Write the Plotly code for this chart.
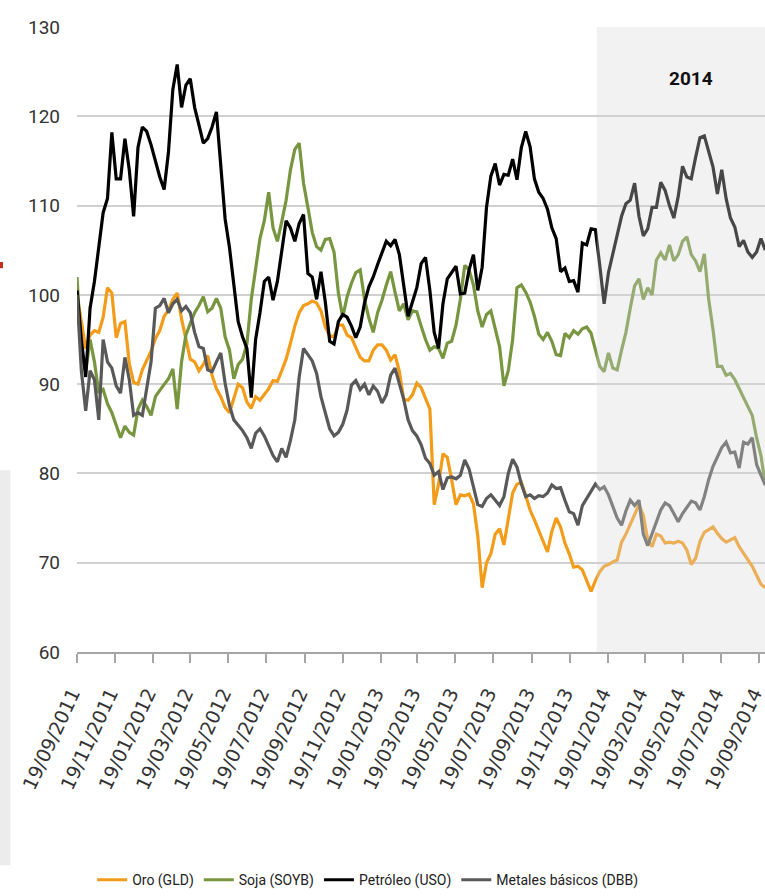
import pandas as pd
import plotly.graph_objects as go

# ---- data (weekly readings, index = 100 on 19/09/2011) ----
start_date = "2011-09-19"

oro = [100, 97, 94, 95.5, 96, 95.8, 97.5, 100.8, 100.2, 95.2,
       96.8, 97, 92.3, 90.2, 90, 91.6, 92.7, 93.7, 95.1, 96,
       97.6, 98.3, 99.5, 100.2, 97.3, 95, 92.8, 92.5, 91.5, 92.2,
       93.2, 91, 89.5, 88.6, 87.4, 86.8, 88.4, 90, 89.6, 88,
       87.3, 88.6, 88.2, 88.8, 89.5, 90.4, 90.3, 91.5, 92.8, 94.6,
       96.5, 98, 98.8, 99, 99.3, 99.1, 98.2, 96.4, 95.4, 95.3,
       96.6, 96.6, 95.5, 95.2, 94, 93, 92.6, 92.6, 93.8, 94.4,
       94.4, 93.8, 92.7, 93.3, 91.4, 88.3, 88.2, 88.8, 90.1, 89.6,
       88.4, 87.2, 76.5, 78.8, 82.2, 81.8, 79.3, 76.5, 77.6, 77.5,
       77.7, 76.6, 73, 67.2, 70, 71, 73.2, 73.8, 72, 74.8,
       77.8, 78.8, 79, 77.5, 75.9, 74.8, 73.6, 72.6, 71.2, 73.5,
       75, 74, 72.2, 71, 69.5, 69.6, 69.2, 68, 66.8, 68,
       69, 69.6, 69.8, 70.1, 70.3, 72.3, 73.2, 74.3, 75.3, 76.5,
       75.3, 72.6, 71.8, 73.2, 73, 72.2, 72.3, 72.2, 72.4, 72.2,
       71.4, 69.8, 70.5, 72.4, 73.4, 73.7, 74, 73.3, 72.7, 72.3,
       72.6, 72.8, 71.8, 71.1, 70.3, 69.6, 68.6, 67.6, 67.2]

soja = [102, 93.5, 91.5, 95, 92.5, 89, 89.4, 87.8, 86.8, 85.3,
        84, 85.3, 84.6, 84.3, 87.2, 88.2, 87.5, 86.5, 88.6, 89.3,
        90, 90.6, 91.7, 87.2, 92.5, 95.5, 96.8, 98, 98.8, 99.8,
        98.1, 98.5, 99.6, 98.5, 95.3, 93.8, 90.6, 92.2, 92.8, 94.5,
        99.5, 102.8, 106.3, 108.3, 111.5, 107.5, 106, 108.2, 110.6, 114,
        116.3, 117, 112.5, 109.8, 107, 105.4, 105, 106.2, 106.3, 104.8,
        100.2, 97.5, 99.8, 101.3, 102.5, 102.8, 99.5, 97.4, 95.8, 98,
        99.4, 101.1, 102.6, 100.3, 98.2, 99, 97.2, 98.2, 98.1, 96.5,
        95, 93.8, 94.2, 94, 92.9, 94.6, 94.8, 96.6, 99.5, 103.3,
        102.8, 101.1, 98.2, 96.4, 97.8, 98.2, 96.3, 94.2, 89.8, 91.5,
        95, 100.8, 101.1, 100.3, 99.2, 97.6, 95.6, 95, 95.8, 94.8,
        93.3, 93.2, 95.7, 95.2, 96, 95.6, 96.2, 96.4, 95.7, 94,
        92, 91.4, 93.5, 91.8, 91.6, 93.8, 95.8, 98.5, 101, 101.8,
        99.5, 100.8, 100, 103.9, 104.7, 103.9, 105.6, 103.8, 104.5, 106,
        106.5, 104.5, 103.8, 102.6, 104.6, 99.5, 96.1, 92, 92, 91,
        91.2, 90.5, 89.5, 88.5, 87.5, 86.5, 84, 82, 78.7]

petroleo = [100.5, 95, 90.8, 98.5, 101.5, 105.5, 109.2, 110.8, 118.2, 113,
            113, 117.5, 114, 108.8, 116.5, 118.8, 118.3, 116.8, 115, 113.2,
            111.8, 116, 123, 125.8, 121, 123.5, 124.2, 121, 119, 117,
            117.5, 118.8, 120.5, 114, 108.5, 105.3, 101.5, 97, 95.3, 94,
            88.5, 95, 98, 101.5, 102, 99.4, 101.5, 105, 108.3, 107.5,
            106, 108, 109, 102.4, 102, 99.5, 102.6, 99.2, 94.8, 94.5,
            97, 97.8, 97.5, 96.5, 95.2, 96.4, 99.1, 100.9, 102, 103.4,
            104.7, 106, 105.5, 106.2, 104.5, 101, 97.6, 99.2, 100.8, 103.5,
            104.2, 100.5, 95.8, 94, 99, 101.8, 102.5, 103.2, 100.1, 100.2,
            102.8, 104.5, 100.5, 103.1, 109.8, 113.3, 114.7, 112.3, 113.5, 113.4,
            115.2, 112.9, 116.5, 118.3, 116.6, 113, 111.5, 110.8, 109.6, 107.5,
            106.3, 102.6, 103, 101.5, 101.6, 100.3, 105.8, 105.6, 107.4, 107.3,
            103.3, 99, 102.5, 104.6, 107, 108.8, 110.2, 110.6, 112.5, 108.8,
            106.6, 107.4, 109.8, 109.8, 112.6, 111.7, 110, 108.6, 111, 114.4,
            113.2, 113, 115.4, 117.6, 117.8, 116, 114.3, 111.3, 114, 110.8,
            108.6, 107.6, 105.4, 106.1, 104.8, 104.2, 104.8, 106.3, 105]

metales = [100, 91.5, 87, 91.5, 90.5, 86, 95, 92.5, 91.8, 89.8,
           89, 93, 90.5, 86.5, 86.8, 86.5, 89.5, 92.5, 98.5, 98.8,
           99.6, 98, 99, 99.5, 98.2, 98.7, 98, 95.8, 94.2, 94,
           91.6, 91.4, 92.5, 93.5, 90.1, 87.6, 86, 85.4, 84.8, 84,
           82.8, 84.5, 85, 84.2, 83.2, 82, 81.3, 82.8, 81.8, 83.7,
           86, 90.8, 94, 93.3, 92.6, 91.2, 88.6, 86.8, 85, 84.2,
           84.6, 85.5, 87.1, 89.9, 90.4, 89.4, 90, 88.8, 89.8, 89.2,
           87.9, 88.8, 91, 91.8, 90, 88.3, 86, 84.8, 84.2, 83.2,
           81.7, 81.1, 79.8, 80.2, 78.2, 79.5, 79.6, 79.4, 79.8, 81.5,
           80.5, 78.6, 76.5, 76.3, 77.2, 77.6, 77, 76.4, 77.4, 80,
           81.6, 80.7, 78.8, 77.4, 77.6, 77.2, 77.5, 77.4, 77.8, 78.7,
           78.3, 78.4, 77, 75.7, 75.5, 74.2, 76.4, 77.2, 77.9, 78.8,
           78.2, 78.5, 77.6, 76.3, 75, 74.2, 75.8, 77, 76.4, 77,
           73.2, 71.9, 73.3, 74.7, 75.9, 76.7, 76.4, 75.5, 74.6, 75.5,
           76.2, 76.9, 76.7, 75.9, 77.4, 79.3, 80.8, 81.8, 82.9, 83.5,
           82.3, 82.4, 80.6, 83.5, 83.3, 84, 81, 79.8, 78.7]

series_names = ["Oro (GLD)", "Soja (SOYB)", "Petróleo (USO)", "Metales básicos (DBB)"]

tick_labels = ["19/09/2011", "19/11/2011", "19/01/2012", "19/03/2012", "19/05/2012",
               "19/07/2012", "19/09/2012", "19/11/2012", "19/01/2013", "19/03/2013",
               "19/05/2013", "19/07/2013", "19/09/2013", "19/11/2013", "19/01/2014",
               "19/03/2014", "19/05/2014", "19/07/2014", "19/09/2014"]
y_ticks = [60, 70, 80, 90, 100, 110, 120, 130]
highlight_start = "2014-01-01"
highlight_label = "2014"
x_end = "2014-09-28 12:00"

# ---- figure ----
dates = pd.date_range(start_date, periods=len(oro), freq="7D")
tickvals = pd.to_datetime(tick_labels, format="%d/%m/%Y")

colors = ["#F39C1A", "#77963F", "#000000", "#595959"]
TXT = "Roboto, Liberation Sans, sans-serif"

fig = go.Figure()
for name, vals, col in zip(series_names, [oro, soja, petroleo, metales], colors):
    fig.add_trace(go.Scatter(x=dates, y=vals, mode="lines", name=name,
                             line=dict(color=col, width=3.2)))

# translucent overlay for 2014
fig.add_shape(type="rect", xref="x", yref="y", x0=highlight_start, x1=x_end,
              y0=60, y1=130, fillcolor="rgba(215,215,215,0.33)", line_width=0,
              layer="above")

fig.add_annotation(x="2014-06-02", y=124.2, xref="x", yref="y", text="<b>" + highlight_label + "</b>",
                   showarrow=False, font=dict(family=TXT, size=19, color="#111111"))

# small cropping artefacts at the left edge
fig.add_shape(type="rect", xref="paper", yref="paper", x0=-0.1119, x1=-0.097,
              y0=-0.341, y1=0.291, fillcolor="#ECECEC", line_width=0, layer="below")
fig.add_shape(type="rect", xref="paper", yref="paper", x0=-0.1119, x1=-0.1075,
              y0=0.614, y1=0.624, fillcolor="#C0301E", line_width=0, layer="below")

fig.update_layout(
    width=765, height=896,
    margin=dict(l=77, r=0, t=27, b=244, autoexpand=False),
    paper_bgcolor="white", plot_bgcolor="white",
    showlegend=True,
    legend=dict(orientation="h", x=0.022, xanchor="left", y=-0.365, yanchor="middle",
                font=dict(family=TXT, size=14, color="#222222"),
                itemwidth=30, bgcolor="rgba(0,0,0,0)"),
)

fig.update_xaxes(
    type="date", range=[start_date, x_end], automargin=False,
    tickvals=tickvals, ticktext=tick_labels, tickangle=-65,
    tickfont=dict(family="DejaVu Sans, sans-serif", size=19, color="#333333"),
    ticks="outside", ticklen=9, tickwidth=1.5, tickcolor="#A6A6A6",
    ticklabelstandoff=12, ticklabelshift=-5, ticklabeloverflow="allow",
    showline=True, linecolor="#A6A6A6", linewidth=2,
    showgrid=False, zeroline=False,
)
fig.update_yaxes(
    range=[60, 130], tickvals=y_ticks, automargin=False,
    tickfont=dict(family=TXT, size=19, color="#333333"),
    showgrid=True, gridcolor="#D0D0D0", gridwidth=1.6,
    showline=False, zeroline=False, ticks="", ticklabelstandoff=16,
)

fig.write_html("out.html", config={"displayModeBar": False},
               post_script="document.body.style.margin='0px';")
